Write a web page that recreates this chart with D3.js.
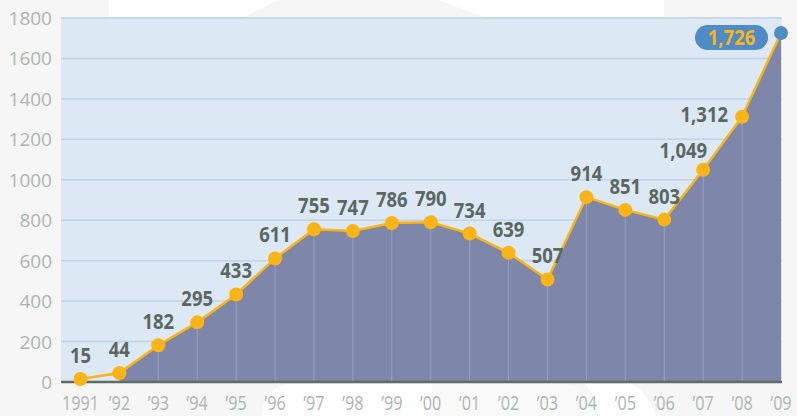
<!DOCTYPE html>
<html>
<head>
<meta charset="utf-8">
<script src="https://d3js.org/d3.v7.min.js"></script>
<style>
  html, body { margin: 0; padding: 0; background: #f6f6f6; }
  svg { display: block; }
</style>
</head>
<body>
<div id="chart"></div>
<script>
// Data
const years = ["1991", "\u201992", "\u201993", "\u201994", "\u201995", "\u201996", "\u201997", "\u201998", "\u201999", "\u201900",
               "\u201901", "\u201902", "\u201903", "\u201904", "\u201905", "\u201906", "\u201907", "\u201908", "\u201909"];
const values = [15, 44, 182, 295, 433, 611, 755, 747, 786, 790, 734, 639, 507, 914, 851, 803, 1049, 1312, 1726];
const yTicks = [0, 200, 400, 600, 800, 1000, 1200, 1400, 1600, 1800];

const width = 797, height = 416;
const margin = {top: 18, right: 16, bottom: 34, left: 61};

const svg = d3.select("#chart").append("svg")
    .attr("width", width)
    .attr("height", height);

// faint watermark shapes behind the chart
svg.append("rect").attr("x", 109).attr("y", 0).attr("width", 555).attr("height", 18).attr("fill", "#ffffff");
svg.append("path").attr("d", "M278,0 L438,0 L487,18 L242,18 Z").attr("fill", "#f6f6f6");
svg.append("path").attr("d", "M262,416 C262,400 268,388 290,384 L432,384 L432,416 Z").attr("fill", "#ffffff");
svg.append("path").attr("d", "M432,384 L560,384 C585,384 595,400 600,416 L432,416 Z").attr("fill", "#f9f9f9");
svg.append("path").attr("d", "M600,416 C596,400 590,388 584,384 L630,384 C645,390 652,404 656,416 Z").attr("fill", "#ffffff");

const x = d3.scaleLinear().domain([-0.5, values.length - 1]).range([margin.left, width - margin.right]);
const y = d3.scaleLinear().domain([0, 1800]).range([height - margin.bottom, margin.top]);

const x0 = margin.left, x1 = width - margin.right + 1;

// plot background
svg.append("rect")
    .attr("x", x0).attr("y", y(1800) - 1)
    .attr("width", x1 - x0).attr("height", y(0) - y(1800) + 1)
    .attr("fill", "#dce8f3");

// gridlines
svg.append("g").selectAll("line")
    .data(yTicks.filter(d => d > 0))
    .join("line")
    .attr("x1", x0).attr("x2", x1)
    .attr("y1", d => y(d)).attr("y2", d => y(d))
    .attr("stroke", "#bfd3ea")
    .attr("stroke-width", 1.5);

// y axis labels
svg.append("g").selectAll("text")
    .data(yTicks)
    .join("text")
    .attr("x", 52)
    .attr("y", d => y(d) + 7)
    .attr("text-anchor", "end")
    .attr("font-family", "'Open Sans', sans-serif")
    .attr("font-size", 19)
    .attr("fill", "#adb5b2")
    .text(d => d);

// area (starts at the second year)
const pts = values.map((v, i) => ({i, v}));
const area = d3.area()
    .x(d => x(d.i))
    .y0(y(0))
    .y1(d => y(d.v));
svg.append("path")
    .datum(pts.slice(1))
    .attr("d", area)
    .attr("fill", "#7e86a9");

// vertical separators under the line
svg.append("g").selectAll("line")
    .data(pts.slice(2, -1))
    .join("line")
    .attr("x1", d => x(d.i)).attr("x2", d => x(d.i))
    .attr("y1", d => y(d.v)).attr("y2", y(0))
    .attr("stroke", "#9ba1c1")
    .attr("stroke-width", 1);

// baseline
svg.append("line")
    .attr("x1", x0).attr("x2", x1)
    .attr("y1", y(0)).attr("y2", y(0))
    .attr("stroke", "#5f6d67")
    .attr("stroke-width", 2.5);

// line
svg.append("path")
    .datum(pts)
    .attr("d", d3.line().x(d => x(d.i)).y(d => y(d.v)))
    .attr("fill", "none")
    .attr("stroke", "#fbb416")
    .attr("stroke-width", 2.5);

// dots
svg.append("g").selectAll("circle")
    .data(pts)
    .join("circle")
    .attr("cx", d => x(d.i))
    .attr("cy", d => y(d.v))
    .attr("r", 7)
    .attr("fill", (d, i) => i === values.length - 1 ? "#4f8cc5" : "#fbb416");

// value labels (narrowed a bit to look like the condensed face)
const fmt = d3.format(",");
const squeeze = 0.86;
svg.append("g").selectAll("text")
    .data(pts.slice(0, -1))
    .join("text")
    .attr("transform", d => {
        let tx = x(d.i), ty = y(d.v) - 16;
        if (d.i === 16) { tx = x(d.i) + 4; ty = y(d.v) - 12; }
        if (d.i === 17) { tx = x(d.i) - 14; ty = y(d.v) + 5; }
        return `translate(${tx},${ty}) scale(${squeeze},1)`;
    })
    .attr("text-anchor", d => d.i >= 16 ? "end" : "middle")
    .attr("font-family", "'Open Sans', sans-serif")
    .attr("font-weight", "bold")
    .attr("font-size", 21.5)
    .attr("fill", "#5b6762")
    .text(d => fmt(d.v));

// last value pill
const last = pts[pts.length - 1];
const pill = svg.append("g");
pill.append("rect")
    .attr("x", x(last.i) - 86).attr("y", y(last.v) - 8)
    .attr("width", 73).attr("height", 25)
    .attr("rx", 12.5)
    .attr("fill", "#4f8cc5");
pill.append("text")
    .attr("transform", `translate(${x(last.i) - 49.5},${y(last.v) + 12.5}) scale(${squeeze},1)`)
    .attr("text-anchor", "middle")
    .attr("font-family", "'Open Sans', sans-serif")
    .attr("font-weight", "bold")
    .attr("font-size", 21.5)
    .attr("fill", "#fbb416")
    .text(fmt(last.v));

// x axis labels
svg.append("g").selectAll("text")
    .data(years)
    .join("text")
    .attr("transform", (d, i) => `translate(${x(i)},410) scale(0.83,1)`)
    .attr("text-anchor", "middle")
    .attr("font-family", "'Open Sans', sans-serif")
    .attr("font-size", 19.5)
    .attr("fill", "#adb5b2")
    .text(d => d);
</script>
</body>
</html>
